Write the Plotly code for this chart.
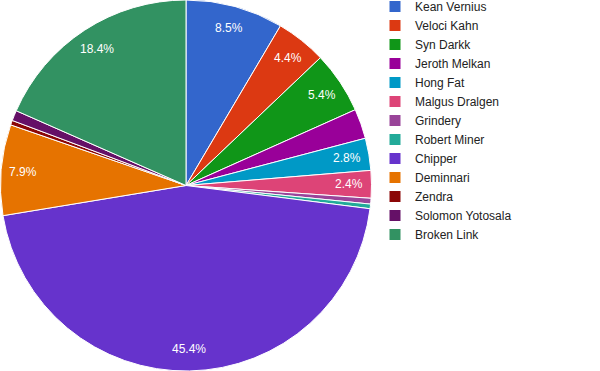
import math
import plotly.graph_objects as go

names = ["Kean Vernius", "Veloci Kahn", "Syn Darkk", "Jeroth Melkan", "Hong Fat",
         "Malgus Dralgen", "Grindery", "Robert Miner", "Chipper", "Deminnari",
         "Zendra", "Solomon Yotosala", "Broken Link"]
values = [8.5, 4.4, 5.4, 2.6, 2.8, 2.4, 0.5, 0.4, 45.4, 7.9, 0.4, 0.9, 18.4]
colors = ["#3366cc", "#dc3912", "#109618", "#990099", "#0099c6", "#dd4477",
          "#994499", "#22aa99", "#6633cc", "#e67300", "#8b0707", "#651067", "#329262"]
labelled = ["Kean Vernius", "Veloci Kahn", "Syn Darkk", "Hong Fat", "Malgus Dralgen",
            "Chipper", "Deminnari", "Broken Link"]

W, H = 600, 371
R = H / 2.0
cx, cy = 186.0, H / 2.0

fig = go.Figure(go.Pie(
    labels=names,
    values=values,
    sort=False,
    direction="clockwise",
    rotation=0,
    marker=dict(colors=colors, line=dict(color="white", width=1)),
    textinfo="none",
    hoverinfo="label+percent",
    domain=dict(x=[0, 2 * cx / W], y=[0, 1]),
))

# slice labels placed along each slice's bisector, computed from the data
total = sum(values)
cum = 0.0
for n, v in zip(names, values):
    mid = (cum + v / 2.0) / total * 2 * math.pi
    cum += v
    if n not in labelled:
        continue
    r = 0.88 * R
    px = cx + r * math.sin(mid)
    py = cy - r * math.cos(mid)
    fig.add_annotation(
        x=px / W, y=1 - py / H, xref="paper", yref="paper",
        text=f"{v / total * 100:.1f}%", showarrow=False,
        xanchor="center", yanchor="middle",
        font=dict(family="Liberation Sans, Arial", size=12, color="white"),
    )

fig.update_layout(
    width=W, height=H,
    margin=dict(l=0, r=0, t=0, b=0),
    paper_bgcolor="white",
    font=dict(family="Liberation Sans, Arial", size=12, color="#222222"),
    legend=dict(x=375 / W, xanchor="left", y=1.0, yanchor="top",
                font=dict(size=12, color="#222222"), tracegroupgap=0),
    showlegend=True,
)

post = """
document.body.style.margin='0';
var lg = document.querySelector('g.legend');
if (lg) {
  var m = /translate\\(([-\\d.]+),\\s*([-\\d.]+)\\)/.exec(lg.getAttribute('transform') || '');
  if (m) lg.setAttribute('transform', 'translate(' + m[1] + ',' + (parseFloat(m[2]) - 8) + ')');
}
"""

fig.write_html("out.html", post_script=post, config={"displayModeBar": False})
